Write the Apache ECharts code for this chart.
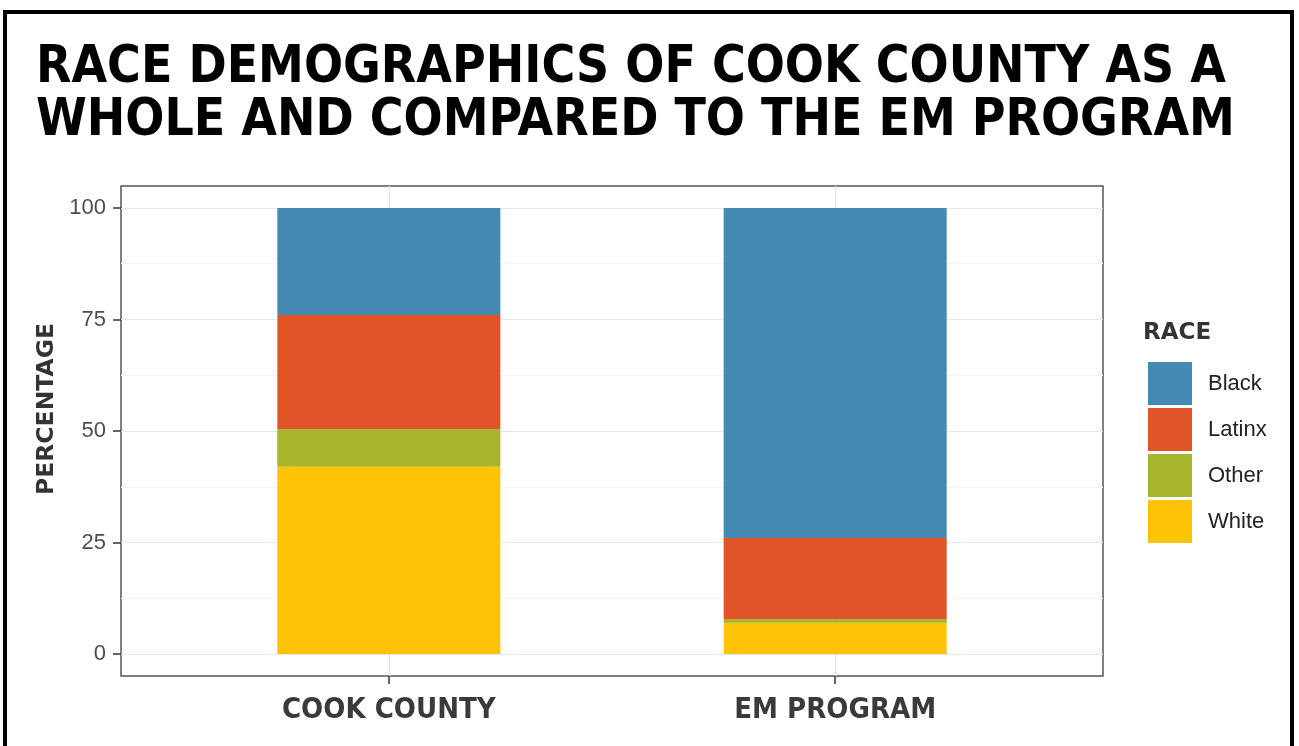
<!DOCTYPE html>
<html>
<head>
<meta charset="utf-8">
<script src="https://cdn.jsdelivr.net/npm/echarts@6/dist/echarts.min.js"></script>
<style>
  html, body { margin: 0; padding: 0; background: #fff; }
  #chart { width: 1299px; height: 746px; }
</style>
</head>
<body>
<div id="chart"></div>
<script>
const categories = ['COOK COUNTY', 'EM PROGRAM']
const races = ['Black', 'Latinx', 'Other', 'White']
const black = [24, 74]
const latinx = [25.6, 18.2]
const other = [8.4, 0.8]
const white = [42, 7]
const yTicks = [0, 25, 50, 75, 100]
const yMinorTicks = [12.5, 37.5, 62.5, 87.5]

const colors = {
  Black: '#438AB5',
  Latinx: '#E05427',
  Other: '#A6B52B',
  White: '#FEC305'
}
const values = { Black: black, Latinx: latinx, Other: other, White: white }

const chart = echarts.init(document.getElementById('chart'))

// ggplot stacks the first level on top, so draw from White upwards.
// value goes first in each item so the stack happens on y, not x
const series = ['White', 'Other', 'Latinx', 'Black'].map(function(name) {
  return {
    name: name,
    type: 'bar',
    stack: 'total',
    barWidth: 223,
    encode: { x: 1, y: 0 },
    itemStyle: { color: colors[name] },
    data: values[name].map(function(v, i) { return [v, i + 1] })
  }
})

const option = {
  animation: false,
  backgroundColor: '#fff',
  title: [
    {
      text: 'RACE DEMOGRAPHICS OF COOK COUNTY AS A\nWHOLE AND COMPARED TO THE EM PROGRAM',
      left: 31,
      top: 37,
      textStyle: {
        fontFamily: 'DejaVu Sans Condensed, DejaVu Sans, sans-serif',
        fontWeight: 'bold',
        fontSize: 51.2,
        lineHeight: 53,
        color: '#000'
      }
    },
    {
      text: 'RACE',
      left: 1138,
      top: 317,
      textStyle: {
        fontFamily: 'DejaVu Sans',
        fontWeight: 'bold',
        fontSize: 23,
        color: '#333'
      }
    }
  ],
  legend: {
    data: races,
    orient: 'vertical',
    left: 1143,
    top: 357,
    icon: 'rect',
    itemWidth: 44,
    itemHeight: 43,
    itemGap: 3,
    textStyle: {
      fontFamily: 'Liberation Sans',
      fontSize: 22,
      color: '#222',
      padding: [0, 0, 0, 11]
    }
  },
  grid: {
    left: 121,
    top: 186,
    width: 982,
    height: 490,
    show: true,
    borderColor: '#555',
    borderWidth: 1.5,
    containLabel: false
  },
  xAxis: {
    type: 'value',
    min: 0.4,
    max: 2.6,
    axisLine: { show: false, onZero: false },
    axisTick: {
      show: true,
      customValues: [1, 2],
      length: 8,
      lineStyle: { color: '#333', width: 1.5 }
    },
    axisLabel: {
      customValues: [1, 2],
      margin: 20,
      fontFamily: 'DejaVu Sans Condensed, DejaVu Sans, sans-serif',
      fontWeight: 'bold',
      fontSize: 29,
      color: '#3a3a3a',
      formatter: function(v) { return categories[Math.round(v) - 1] }
    },
    splitLine: { show: true, lineStyle: { color: '#E6E6E6', width: 1.2 } }
  },
  yAxis: [
    {
      type: 'value',
      min: -4.93,
      max: 104.93,
      name: 'PERCENTAGE',
      nameLocation: 'middle',
      nameRotate: 90,
      nameGap: 56,
      nameTextStyle: {
        fontFamily: 'DejaVu Sans',
        fontWeight: 'bold',
        fontSize: 23.5,
        color: '#333',
        padding: [0, 0, 0, 44]
      },
      axisLine: { show: false, onZero: false },
      axisTick: {
        show: true,
        customValues: yTicks,
        length: 8,
        lineStyle: { color: '#333', width: 1.5 }
      },
      axisLabel: {
        customValues: yTicks,
        margin: 15,
        fontFamily: 'Liberation Sans',
        fontSize: 22,
        color: '#4d4d4d'
      },
      splitLine: { show: true, lineStyle: { color: '#E6E6E6', width: 1.2 } }
    },
    {
      type: 'value',
      min: -4.93,
      max: 104.93,
      position: 'left',
      axisLine: { show: false, onZero: false },
      axisTick: { show: false, customValues: yMinorTicks },
      axisLabel: { show: false, customValues: yMinorTicks },
      splitLine: { show: true, lineStyle: { color: '#F3F3F3', width: 1 } }
    }
  ],
  graphic: [
    {
      type: 'rect',
      shape: { x: 5, y: 12, width: 1287, height: 800 },
      style: { fill: 'none', stroke: '#000', lineWidth: 4 },
      z: 100
    }
  ],
  series: series
}

chart.setOption(option)
</script>
</body>
</html>
